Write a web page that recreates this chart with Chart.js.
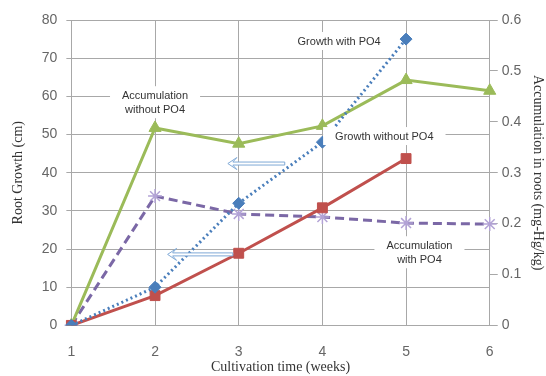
<!DOCTYPE html>
<html>
<head>
<meta charset="utf-8">
<script src="https://cdn.jsdelivr.net/npm/chart.js@4.4.1/dist/chart.umd.min.js"></script>
<style>
  html, body { margin: 0; padding: 0; background: #fff; }
  #wrap { width: 546px; height: 376px; }
</style>
</head>
<body>
<div id="wrap"><canvas id="rootChart" width="546" height="376"></canvas></div>
<script>
// data
const weeks = ['1', '2', '3', '4', '5', '6'];
const growthWithPO4 = [0, 10, 32, 48, 75, null];          // cm, left axis
const growthWithoutPO4 = [0, 7.8, 18.9, 30.8, 43.7, null]; // cm, left axis
const accumWithoutPO4 = [0, 0.388, 0.357, 0.392, 0.482, 0.461]; // mg-Hg/kg, right axis
const accumWithPO4 = [0, 0.254, 0.219, 0.213, 0.201, 0.199];    // mg-Hg/kg, right axis
const leftTicks = [0, 10, 20, 30, 40, 50, 60, 70, 80];
const rightTicks = [0, 0.1, 0.2, 0.3, 0.4, 0.5, 0.6];

// text labels placed in the plot (x in weeks, y in cm)
const noteLabels = [
  { lines: ['Accumulation', 'without PO4'], x: 2.0, y: 60.3 },
  { lines: ['Growth with PO4'], x: 4.2, y: 74.5 },
  { lines: ['Growth without PO4'], x: 4.74, y: 49.6 },
  { lines: ['Accumulation', 'with PO4'], x: 5.16, y: 21.0 }
];
// arrows pointing back to the left axis (from x1 to x2 at height y, in cm)
const arrows = [
  { from: 3.55, to: 2.87, y: 42.4 },
  { from: 2.93, to: 2.15, y: 18.6 }
];

const notesPlugin = {
  id: 'notes',
  afterDatasetsDraw(chart) {
    const ctx = chart.ctx;
    const xs = chart.scales.x, ys = chart.scales.y;
    ctx.save();
    // arrows
    ctx.strokeStyle = '#7fa9d6';
    ctx.lineWidth = 1;
    arrows.forEach(a => {
      const x1 = xs.getPixelForValue(a.from - 1);
      const x2 = xs.getPixelForValue(a.to - 1);
      const y = ys.getPixelForValue(a.y);
      ctx.beginPath();
      ctx.moveTo(x1, y - 1.5);
      ctx.lineTo(x2 + 5, y - 1.5);
      ctx.lineTo(x2 + 9, y - 6);
      ctx.lineTo(x2, y);
      ctx.lineTo(x2 + 9, y + 6);
      ctx.lineTo(x2 + 5, y + 1.5);
      ctx.lineTo(x1, y + 1.5);
      ctx.closePath();
      ctx.fillStyle = '#ffffff';
      ctx.fill();
      ctx.stroke();
    });
    // labels with white background
    ctx.font = '11px "Liberation Sans", Arial, sans-serif';
    ctx.textBaseline = 'middle';
    ctx.textAlign = 'center';
    noteLabels.forEach(n => {
      const cx = xs.getPixelForValue(n.x - 1);
      const cy = ys.getPixelForValue(n.y);
      const lh = 14;
      const w = Math.max(...n.lines.map(s => ctx.measureText(s).width));
      ctx.fillStyle = '#ffffff';
      ctx.fillRect(cx - w / 2 - 12, cy - lh / 2 - 2, w + 24, lh * n.lines.length + 4);
      ctx.fillStyle = '#333333';
      n.lines.forEach((s, i) => ctx.fillText(s, cx, cy + i * lh + 1));
    });
    ctx.restore();
  }
};

const tickFont = { size: 14, family: '"Liberation Sans", Arial, sans-serif' };
const titleFont = { size: 14, family: '"Liberation Serif", "Times New Roman", serif' };

const ctx = document.getElementById('rootChart').getContext('2d');
const rootChart = new Chart(ctx, {
  type: 'line',
  data: {
    labels: weeks,
    datasets: [
      {
        label: 'Growth with PO4',
        data: growthWithPO4,
        yAxisID: 'y',
        borderColor: '#4a7ebb',
        backgroundColor: '#4a7ebb',
        borderWidth: 3,
        borderDash: [2, 3],
        pointStyle: 'rectRot',
        pointRadius: 6,
        pointBorderWidth: 1,
        order: 1
      },
      {
        label: 'Growth without PO4',
        data: growthWithoutPO4,
        yAxisID: 'y',
        borderColor: '#c0504d',
        backgroundColor: '#c0504d',
        borderWidth: 3,
        pointStyle: 'rect',
        pointRadius: 7,
        pointBorderWidth: 1,
        order: 2
      },
      {
        label: 'Accumulation without PO4',
        data: accumWithoutPO4,
        yAxisID: 'y1',
        borderColor: '#9bbb59',
        backgroundColor: '#9bbb59',
        borderWidth: 3,
        pointStyle: 'triangle',
        pointRadius: 7,
        pointBorderWidth: 1,
        order: 3
      },
      {
        label: 'Accumulation with PO4',
        data: accumWithPO4,
        yAxisID: 'y1',
        borderColor: '#7b68a6',
        backgroundColor: '#7b68a6',
        borderWidth: 3,
        borderDash: [9, 5],
        pointStyle: 'star',
        pointRadius: 7,
        pointBorderColor: '#b3a3d6',
        pointBorderWidth: 1.5,
        order: 4
      }
    ]
  },
  options: {
    responsive: false,
    animation: false,
    layout: { padding: { top: 20, right: 0, bottom: 0, left: 10 } },
    plugins: { legend: { display: false }, tooltip: { enabled: false } },
    scales: {
      x: {
        offset: false,
        grid: { color: '#a8a8a8', lineWidth: 1, tickLength: 0 },
        border: { color: '#a8a8a8' },
        ticks: { color: '#666', font: tickFont, padding: 18 },
        title: {
          display: true,
          text: 'Cultivation time (weeks)',
          color: '#333',
          font: titleFont,
          padding: { top: -19, bottom: 0 }
        }
      },
      y: {
        position: 'left',
        min: 0,
        max: 80,
        afterBuildTicks: axis => { axis.ticks = leftTicks.map(v => ({ value: v })); },
        grid: { color: '#a8a8a8', lineWidth: 1, tickLength: 5 },
        border: { color: '#a8a8a8' },
        ticks: { color: '#666', font: tickFont, padding: 9 },
        title: {
          display: true,
          text: 'Root Growth (cm)',
          color: '#333',
          font: titleFont,
          padding: { top: 0, bottom: 6 }
        }
      },
      y1: {
        position: 'right',
        min: 0,
        max: 0.6,
        afterBuildTicks: axis => { axis.ticks = rightTicks.map(v => ({ value: v })); },
        grid: { drawOnChartArea: false, color: '#a8a8a8', tickLength: 8 },
        border: { color: '#a8a8a8' },
        ticks: {
          color: '#666',
          font: tickFont,
          padding: 4,
          callback: v => (v === 0 ? '0' : v.toFixed(1))
        },
        title: {
          display: true,
          text: 'Accumulation in roots (mg-Hg/kg)',
          color: '#333',
          font: titleFont,
          padding: { top: 0, bottom: 4 }
        }
      }
    }
  },
  plugins: [notesPlugin]
});
</script>
</body>
</html>
